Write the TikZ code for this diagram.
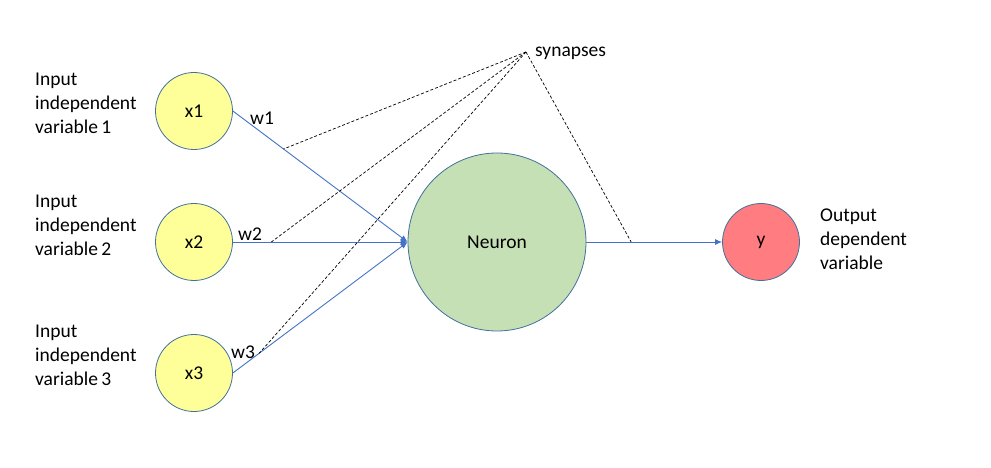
\documentclass[tikz,border=0pt]{standalone}
\usepackage{fontspec}
\setmainfont{Carlito}
\usetikzlibrary{arrows.meta,calc,positioning}
\definecolor{inyellow}{HTML}{FFFF99}
\definecolor{neurongreen}{HTML}{C5E0B4}
\definecolor{outred}{HTML}{FF7C80}
\definecolor{rimblue}{HTML}{41719C}
\definecolor{linkblue}{HTML}{4472C4}
\tikzset{unit/.style={circle, draw=rimblue, line width=0.8pt, inner sep=0pt},
         link/.style={draw=linkblue, line width=0.9pt, -{Latex[length=7pt,width=6pt]}},
         syn/.style={densely dashed, line width=0.7pt, black},
         caption/.style={align=left, anchor=west, inner sep=0pt}}

\begin{document}
\begin{tikzpicture}[x=1pt,y=-1pt,font=\fontsize{19.5}{24}\selectfont]
\useasboundingbox (0,0) rectangle (991,468);
% units
\node[unit, fill=inyellow, minimum size=77pt] (x1) at (194,111) {x1};
\node[unit, fill=inyellow, minimum size=77pt] (x2) at (194,242) {x2};
\node[unit, fill=inyellow, minimum size=77pt] (x3) at (194,373) {x3};
\node[unit, fill=neurongreen, minimum size=178pt] (neuron) at (497,242) {Neuron};
\node[unit, fill=outred, minimum size=77pt] (y) at (761,242) {y};

% captions
\node[caption] (in1) at (35,103) {Input\\independent\\variable\,1};
\node[caption] (in2) at (35,225) {Input\\independent\\variable\,2};
\node[caption] (in3) at (35,355) {Input\\independent\\variable\,3};
\node[caption] (out) at (820,239) {Output\\dependent\\variable};

% weighted links
\draw[link] (x1.east) -- (neuron.west);
\draw[link] (x2.east) -- (neuron.west);
\draw[link] (x3.east) -- (neuron.west);
\draw[link] (neuron.east) -- (y.west);
\node (w1) at (262,118) {w1};
\node (w2) at (250,234) {w2};
\node (w3) at (243,352) {w3};

% synapses
\coordinate (s) at (526,52);
\node[anchor=base west, inner sep=0pt] (synlabel) at (535,57) {synapses};
\coordinate (s1) at ($(x1.east)!0.29!(neuron.west)$);
\coordinate (s2) at ($(x2.east)!0.22!(neuron.west)$);
\coordinate (s3) at ($(x3.east)!0.15!(neuron.west)$);
\coordinate (s4) at ($(neuron.east)!0.33!(y.west)$);
\draw[syn] (s) -- (s1);
\draw[syn] (s) -- (s2);
\draw[syn] (s) -- (s3);
\draw[syn] (s) -- (s4);
\end{tikzpicture}
\end{document}
